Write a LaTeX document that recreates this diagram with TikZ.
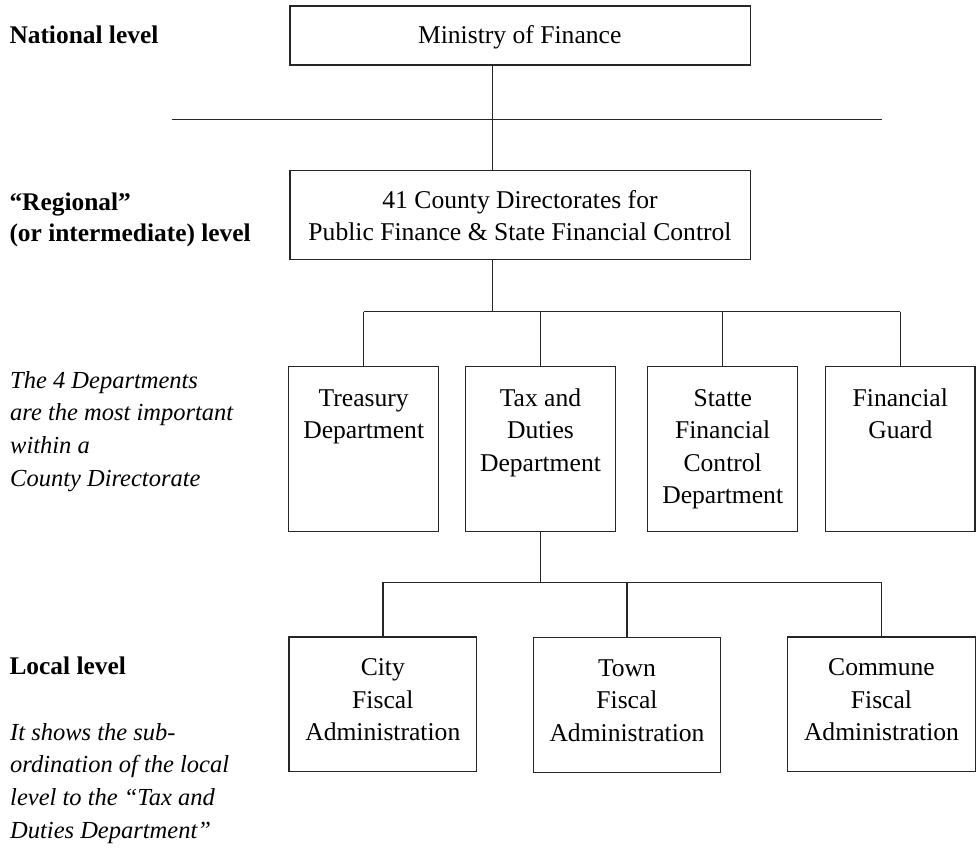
\documentclass[tikz,border=0pt]{standalone}
\usepackage{fontspec}
\setmainfont{Liberation Serif}
\usetikzlibrary{calc}
\begin{document}
\begin{tikzpicture}[x=1pt,y=-1pt,
  box/.style={draw=black!85, line width=1.4pt, rectangle, inner sep=0pt},
  conn/.style={draw=black!85, line width=1.4pt},
  txt/.style={inner sep=0pt, align=center, anchor=base, font=\fontsize{25.6}{32.5}\selectfont},
  boldlbl/.style={inner sep=0pt, align=left, anchor=base west, font=\fontsize{25.4}{31.7}\selectfont\bfseries},
  itallbl/.style={inner sep=0pt, align=left, anchor=base west, font=\fontsize{24.5}{32.7}\selectfont\itshape},
]
\useasboundingbox (0,0) rectangle (976,847);

% boxes
\node[box, minimum width=460.3pt, minimum height=58.7pt] (min) at (520.2,35.5) {};
\node[box, minimum width=460.3pt, minimum height=88.6pt] (cty) at (520.2,215) {};
\node[box, minimum width=150pt, minimum height=165pt] (treas) at (363.7,449.2) {};
\node[box, minimum width=149.6pt, minimum height=165pt] (tax) at (540.5,449.2) {};
\node[box, minimum width=150pt, minimum height=165pt] (stat) at (722.7,449.2) {};
\node[box, minimum width=149.3pt, minimum height=165pt] (guard) at (900.3,449.2) {};
\node[box, minimum width=187.7pt, minimum height=134.7pt] (city) at (382.8,704.4) {};
\node[box, minimum width=187.4pt, minimum height=134.6pt] (town) at (627,705) {};
\node[box, minimum width=187.6pt, minimum height=134.7pt] (comm) at (881.5,704.4) {};

% box texts (anchor base = last line's baseline)
\node[txt] (tmin) at (519.7,43.3) {Ministry of Finance};
\node[txt, font=\fontsize{25.6}{31.7}\selectfont] (tcty) at (520,240) {41 County Directorates for\\Public Finance \& State Financial Control};
\node[txt] (ttreas) at (363.7,438.5) {Treasury\\Department};
\node[txt] (ttax) at (540.5,471) {Tax and\\Duties\\Department};
\node[txt] (tstat) at (722.7,503.5) {Statte\\Financial\\Control\\Department};
\node[txt] (tguard) at (900.3,438.5) {Financial\\Guard};
\node[txt] (tcity) at (382.8,740.7) {City\\Fiscal\\Administration};
\node[txt] (ttown) at (627,741.3) {Town\\Fiscal\\Administration};
\node[txt] (tcomm) at (881.5,740.7) {Commune\\Fiscal\\Administration};

% left labels
\node[boldlbl] (lnat) at (9.3,43.3) {National level};
\node[boldlbl] (lreg) at (9.3,241.7) {``Regional''\\(or intermediate) level};
\node[itallbl] (ldep) at (10,486.1) {The 4 Departments\\are the most important\\within a\\County Directorate};
\node[boldlbl] (lloc) at (9.3,674) {Local level};
\node[itallbl] (lsub) at (10,838.1) {It shows the sub-\\ordination of the local\\level to the ``Tax and\\Duties Department''};

% connectors
\coordinate (sp) at (492.7,0);
\coordinate (hl) at (171.7,119.3);
\coordinate (hr) at (881.7,119.3);
\coordinate (br) at (0,311.7);
\coordinate (lb) at (0,582.3);
\draw[conn] (min.south -| sp) -- (cty.north -| sp);
\draw[conn] (hl) -- (hr);
\draw[conn] (cty.south -| sp) -- (sp |- br);
\draw[conn] (treas.north |- br) -- (guard.north |- br);
\draw[conn] (treas.north) -- (treas.north |- br);
\draw[conn] (tax.north) -- (tax.north |- br);
\draw[conn] (stat.north) -- (stat.north |- br);
\draw[conn] (guard.north) -- (guard.north |- br);
\draw[conn] (tax.south) -- (tax.south |- lb);
\draw[conn] (city.north |- lb) -- (comm.north |- lb);
\draw[conn] (city.north) -- (city.north |- lb);
\draw[conn] (town.north) -- (town.north |- lb);
\draw[conn] (comm.north) -- (comm.north |- lb);
\end{tikzpicture}
\end{document}
